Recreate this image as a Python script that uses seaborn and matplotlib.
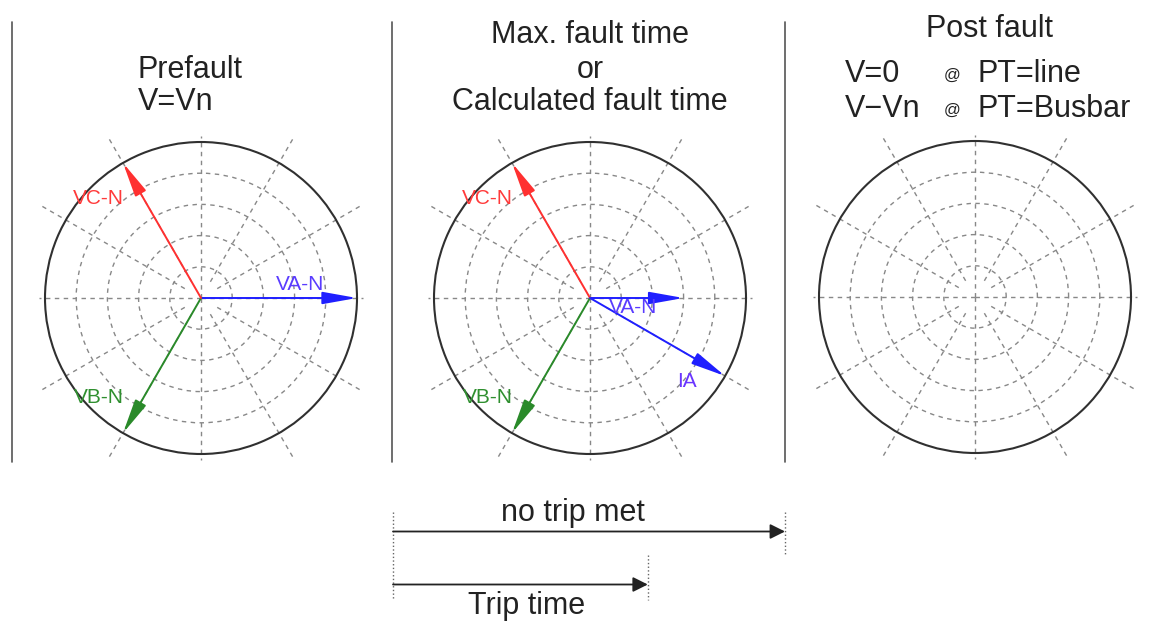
import numpy as np
import matplotlib
matplotlib.use("Agg")
import matplotlib.pyplot as plt
from matplotlib.lines import Line2D
import seaborn as sns

# phasors (magnitude in grid units, angle in degrees)
prefault_names = ["VA-N", "VB-N", "VC-N"]
prefault_mag = [5.0, 5.0, 5.0]
prefault_ang = [0.0, -120.0, 120.0]

fault_names = ["VA-N", "VB-N", "VC-N", "IA"]
fault_mag = [3.0, 5.0, 5.0, 5.0]
fault_ang = [0.0, -120.0, 120.0, -30.0]

phasor_colors = {"VA-N": "#1f1fff", "VB-N": "#2a8a2a", "VC-N": "#ff3030", "IA": "#1f1fff"}
label_colors = {"VA-N": "#5a3cff", "VB-N": "#2f8f2f", "VC-N": "#ff3a3a", "IA": "#6a35ff"}

# label placement (angle deg, radius) per panel
prefault_lbl = {"VA-N": (7.5, 3.2), "VB-N": (224.3, 4.55), "VC-N": (135.6, 4.58)}
fault_lbl = {"VA-N": (-13.0, 1.42), "VB-N": (224.3, 4.55), "VC-N": (135.6, 4.58), "IA": (-40.6, 4.09)}

# time bars (fraction of max fault time)
time_labels = ["no trip met", "Trip time"]
time_ends = [1.0, 0.65]

W, H = 1164, 625
R = 156
GRID = "#888888"
DASH = (0, (3.2, 3.2))

sns.set_theme(style="white")
plt.rcParams['font.family'] = ['Liberation Sans', 'DejaVu Sans']

fig = plt.figure(figsize=(W/100, H/100), dpi=100)
fig.patch.set_facecolor("white")


def fx(px):
    return px / W


def fy(py):
    return 1 - py / H


def polar_panel(cx, cy):
    ax = fig.add_axes([(cx-R)/W, 1-(cy+R)/H, 2*R/W, 2*R/H], projection="polar")
    ax.set_facecolor("white")
    ax.set_ylim(0, 5)
    ax.set_yticks([1, 2, 3, 4])
    ax.set_xticks(np.deg2rad(np.arange(0, 360, 30)))
    ax.set_xticklabels([])
    ax.set_yticklabels([])
    ax.tick_params(length=0)
    ax.xaxis.grid(False)
    ax.yaxis.grid(True, color=GRID, ls=DASH, lw=1.0)
    ax.spines['polar'].set_color("#303030")
    ax.spines['polar'].set_linewidth(1.5)
    for a in range(0, 360, 30):
        th = np.deg2rad(a)
        if a % 90 == 0:
            ax.plot([th, th], [0, 5.2], ls=DASH, color=GRID, lw=1.0, clip_on=False, zorder=1)
        else:
            ax.plot([th, th], [0.6, 6.0], ls=DASH, color=GRID, lw=1.0, clip_on=False, zorder=1)
    return ax


def draw_phasors(ax, names, mags, angs, lbls):
    for n, m, a in zip(names, mags, angs):
        ax.annotate("", xy=(np.deg2rad(a), m), xytext=(0, 0),
                    arrowprops=dict(arrowstyle="-|>,head_length=1.4,head_width=0.25",
                                    color=phasor_colors[n], lw=1.4, mutation_scale=15,
                                    shrinkA=0, shrinkB=0), zorder=5)
        la, lr = lbls[n]
        ax.text(np.deg2rad(la), lr, n, color=label_colors[n], fontsize=15,
                ha="center", va="center", zorder=6)


ax1 = polar_panel(201, 298)
draw_phasors(ax1, prefault_names, prefault_mag, prefault_ang, prefault_lbl)

ax2 = polar_panel(590, 298)
draw_phasors(ax2, fault_names, fault_mag, fault_ang, fault_lbl)

ax3 = polar_panel(975, 297)

# separators
for x in [12, 392, 785]:
    fig.add_artist(Line2D([fx(x), fx(x)], [fy(22), fy(462)], color="#555555", lw=1.2))

TXT = "#222222"
FS = 22
fig.text(fx(138), fy(78), "Prefault", fontsize=FS, color=TXT, ha="left", va="baseline")
fig.text(fx(138), fy(110), "V=Vn", fontsize=FS, color=TXT, ha="left", va="baseline")

fig.text(fx(590), fy(43), "Max. fault time", fontsize=FS, color=TXT, ha="center", va="baseline")
fig.text(fx(590), fy(78), "or", fontsize=FS, color=TXT, ha="center", va="baseline")
fig.text(fx(590), fy(110), "Calculated fault time", fontsize=FS, color=TXT, ha="center", va="baseline")

fig.text(fx(989), fy(37), "Post fault", fontsize=FS, color=TXT, ha="center", va="baseline")
fig.text(fx(845), fy(82), "V=0", fontsize=FS, color=TXT, ha="left", va="baseline")
fig.text(fx(845), fy(117), "V\u2212Vn", fontsize=FS, color=TXT, ha="left", va="baseline")
fig.text(fx(952), fy(80), "@", fontsize=12, color=TXT, ha="center", va="baseline")
fig.text(fx(952), fy(115), "@", fontsize=12, color=TXT, ha="center", va="baseline")
fig.text(fx(977), fy(82), "PT=line", fontsize=FS, color=TXT, ha="left", va="baseline")
fig.text(fx(977), fy(117), "PT=Busbar", fontsize=FS, color=TXT, ha="left", va="baseline")

# time bars
axt = fig.add_axes([fx(393), fy(611), 392/W, 106/H])
axt.set_xlim(0, 1)
axt.set_ylim(1.5, -0.5)
axt.set_axis_off()
for i, (lab, end) in enumerate(zip(time_labels, time_ends)):
    axt.annotate("", xy=(end, i), xytext=(0, i),
                 arrowprops=dict(arrowstyle="-|>,head_length=0.6,head_width=0.3",
                                 color="#222222", lw=1.3, mutation_scale=15,
                                 shrinkA=0, shrinkB=0), annotation_clip=False)
    # dotted end markers
    y0, y1 = (-0.37, 0.44) if i == 0 else (0.44, 1.29)
    axt.plot([end, end], [y0, y1], ls=":", color="#666666", lw=1.0, clip_on=False)
axt.plot([0, 0], [-0.37, 1.29], ls=":", color="#666666", lw=1.0, clip_on=False)

axt.text(0.46, -0.19, time_labels[0], fontsize=FS, color=TXT, ha="center", va="baseline")
axt.text(0.34, 1.55, time_labels[1], fontsize=FS, color=TXT, ha="center", va="baseline")

fig.savefig("out.png", dpi=100, facecolor="white")
